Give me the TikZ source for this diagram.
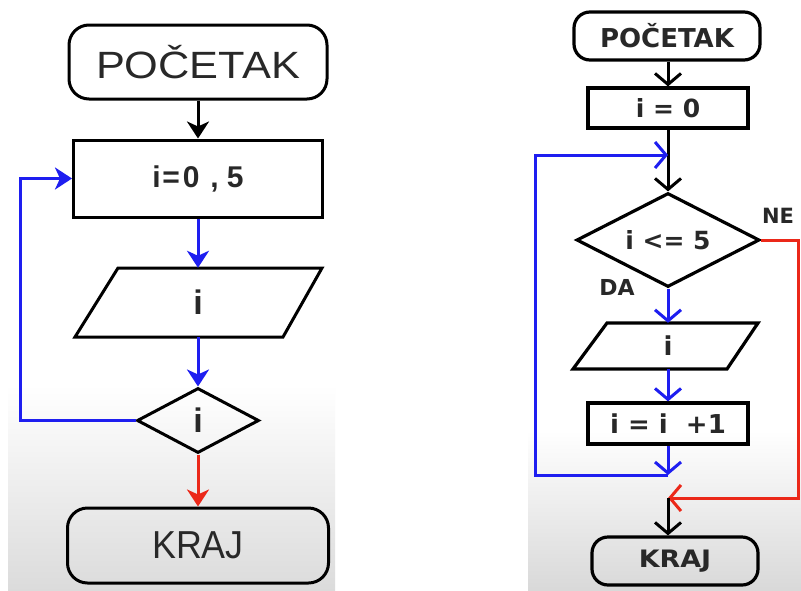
\documentclass[tikz,border=0pt]{standalone}
\usepackage{fontspec}
\setmainfont{Liberation Sans}
\newfontfamily\dv{DejaVu Sans}
\usetikzlibrary{arrows.meta,shapes.geometric,calc}
\definecolor{lblue}{RGB}{30,30,240}
\definecolor{lred}{RGB}{235,40,25}
\definecolor{txt}{RGB}{40,40,40}
\newcommand{\fs}[1]{\fontsize{#1}{#1}\selectfont}
\tikzset{
  lbox/.style={draw=black, line width=3pt, inner sep=0pt, text=txt},
  lterm/.style={lbox, rounded corners=20pt},
  rbox/.style={draw=black, line width=3.2pt, inner sep=0pt, text=txt, font=\dv\bfseries},
  rterm/.style={rbox, rounded corners=16pt},
  anchorbox/.style={inner sep=0pt, text=txt},
  larr/.style={line width=3pt, -{Stealth[length=17pt,width=22pt,inset=5pt]}},
  rarr/.style={line width=3pt, -{Straight Barb[length=11pt,width=26pt]}},
}
\begin{document}
\begin{tikzpicture}[x=1pt,y=-1pt]
\useasboundingbox (0,0) rectangle (801,590);
\fill[white] (0,0) rectangle (801,590);
\shade[top color=white,bottom color=black!14] (8,385) rectangle (335,590);
\shade[top color=white,bottom color=black!15] (528,430) rectangle (801,590);

% ---------------- left flowchart ----------------
\node[lterm, minimum width=258pt, minimum height=74pt] (ls) at (198,62)
  {\scalebox{1.14}[1]{\fs{38}POČETAK}};
\node[lbox, minimum width=249pt, minimum height=77pt] (lr) at (198,178.5)
  {\fs{30}\bfseries i\kern1.5pt=\kern3pt0\kern11pt,\kern8pt5};
\node[anchorbox, minimum width=160pt, minimum height=69pt] (lp) at (198,302.5)
  {\fs{34}\bfseries i};
\draw[line width=3pt, line join=miter] (75,337) -- (283,337) -- (322,268) -- (118,268) -- cycle;
\node[lbox, diamond, aspect=1.88, minimum width=122pt, minimum height=65pt] (ld) at (198,420.5)
  {\fs{34}\bfseries i};
\node[lterm, minimum width=261pt, minimum height=75pt] (lk) at (198,545.5)
  {\scalebox{0.92}[1]{\fs{39}KRAJ}\hspace{12pt}};
\coordinate (lc) at (20,420.5);

\draw[larr, black] (ls) -- (lr);
\draw[larr, lblue] (lr) -- (lp);
\draw[larr, lblue] (lp) -- (ld);
\draw[larr, lred] (ld) -- (lk);
\draw[larr, lblue] (ld.west) -- (lc) |- (lr.west);

% ---------------- right flowchart ----------------
\node[rterm, minimum width=186pt, minimum height=48pt] (rs) at (667,36)
  {\fs{26}POČETAK};
\node[rbox, minimum width=160pt, minimum height=40pt] (ri) at (668,108)
  {\fs{25}i = 0};
\node[rbox, diamond, aspect=1.95, minimum width=183pt, minimum height=94pt] (rd) at (668,240)
  {\fs{25}i <= 5};
\node[anchorbox, font=\dv\bfseries, minimum width=120pt, minimum height=46pt] (rp) at (668,346)
  {\fs{26}i};
\draw[line width=3.2pt, line join=miter] (573,369) -- (727,369) -- (758,323) -- (607,323) -- cycle;
\node[rbox, minimum width=160pt, minimum height=41pt] (rn) at (668,423.5)
  {\fs{26}i = i\ \ +1};
\node[rterm, minimum width=166pt, minimum height=48pt] (rk) at (675,561)
  {\scalebox{1.12}[1]{\fs{24}KRAJ}};
\node[font=\dv\bfseries, text=txt, anchor=center] (ne) at (778,216) {\fs{21}NE};
\node[font=\dv\bfseries, text=txt, anchor=center] (da) at (617,287) {\fs{22}DA};

\coordinate (b1) at (668,475);
\coordinate (b2) at (535,475);
\coordinate (b3) at (668,155);
\coordinate (rc) at (798,240);
\coordinate (j) at (668,498);

\draw[rarr, black] (rs.south -| ri.north) -- (ri.north);
\draw[rarr, black] (ri.south) -- (rd.north);
\draw[rarr, lblue] (rd.south) -- (rp.north);
\draw[rarr, lblue] (rp.south) -- (rn.north);
\draw[rarr, lblue] (rn.south) -- (b1);
\draw[rarr, lblue] (b1) -- (b2) |- (b3);
\draw[rarr, lred] (rd.east) -- (rc) |- (j);
\draw[rarr, black] (j) -- (j |- rk.north);
\end{tikzpicture}
\end{document}
